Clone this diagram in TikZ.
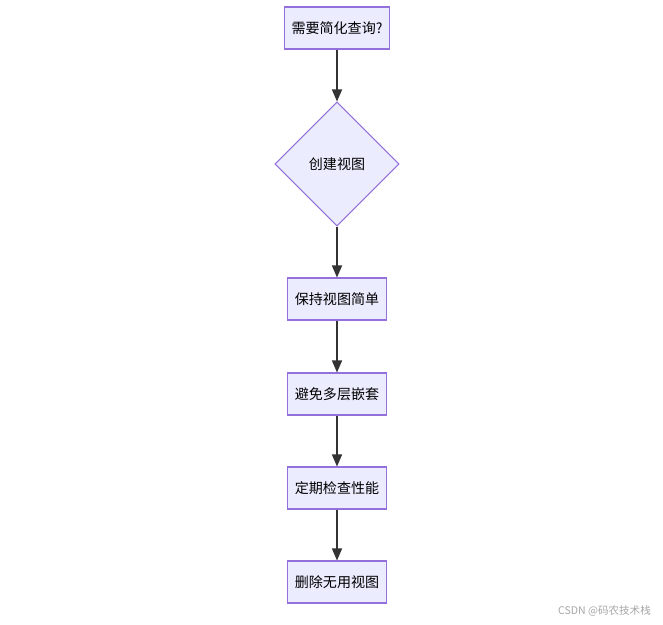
\documentclass[tikz,border=0pt]{standalone}
\usepackage{fontspec}
\setmainfont{Noto Sans CJK SC}
\usetikzlibrary{arrows.meta,shapes.geometric,positioning}
\definecolor{boxfill}{HTML}{ECECFF}
\definecolor{boxline}{HTML}{9370DB}
\definecolor{arrowcol}{HTML}{333333}
\tikzset{
  stepbox/.style = {
    draw=boxline, fill=boxfill, semithick,
    minimum height=0.84cm, inner xsep=0.14cm,
    font=\fontsize{8}{10}\selectfont
  },
  decision/.style = {
    diamond, draw=boxline, fill=boxfill, semithick,
    minimum width=2.48cm, minimum height=2.48cm, inner sep=0pt,
    font=\fontsize{8}{10}\selectfont
  },
  arc/.style = {
    -{Triangle[length=0.24cm,width=0.2cm]},
    draw=arrowcol, thick
  }
}
\begin{document}
\begin{tikzpicture}[x=0.02cm,y=-0.02cm]
    \useasboundingbox (0,0) rectangle (663,625);
    \node[stepbox] (ask)    at (337,28)  {需要简化查询?};
    \node[decision] (view)  at (337,164) {创建视图};
    \node[stepbox] (simple) at (337,299) {保持视图简单};
    \node[stepbox] (nest)   at (337,394) {避免多层嵌套};
    \node[stepbox] (perf)   at (337,488) {定期检查性能};
    \node[stepbox] (drop)   at (337,582) {删除无用视图};

    \draw[arc] (ask) -- (view);
    \draw[arc] (view) -- (simple);
    \draw[arc] (simple) -- (nest);
    \draw[arc] (nest) -- (perf);
    \draw[arc] (perf) -- (drop);

    \node[text=gray!70, font=\fontsize{6}{7}\selectfont, anchor=east] (mark) at (657,611) {CSDN @码农技术栈};
\end{tikzpicture}
\end{document}
